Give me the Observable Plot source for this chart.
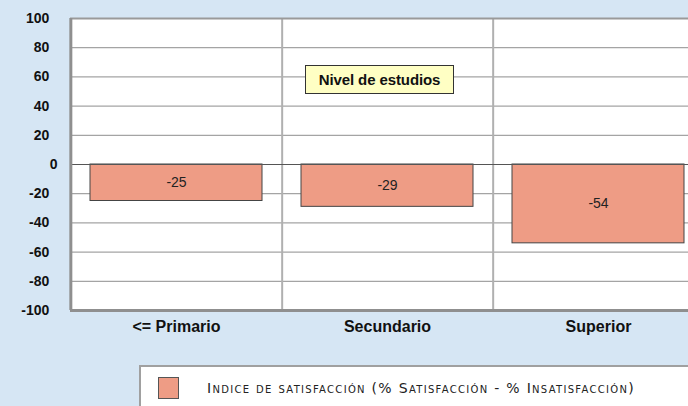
<!DOCTYPE html>
<html>
<head>
<meta charset="utf-8">
<script src="https://cdn.jsdelivr.net/npm/d3@7"></script>
<script src="https://cdn.jsdelivr.net/npm/@observablehq/plot@0.6"></script>
<style>
  html, body { margin: 0; padding: 0; background: #d6e6f4; overflow: hidden; }
  #wrap { position: relative; width: 688px; height: 406px; background: #d6e6f4; overflow: hidden; font-family: "Liberation Sans", Arial, sans-serif; }
  #chart svg { display: block; background: none; }
  #note { position: absolute; left: 305px; top: 65px; width: 147px; height: 27px; background: #ffffc4; border: 1px solid #333;
          font: bold 15px "Liberation Sans", Arial, sans-serif; letter-spacing: -0.1px; color: #111; display: flex; align-items: center; justify-content: center; }
  #legend { position: absolute; left: 139px; top: 365px; width: 580px; height: 60px; background: #fff; border: 2px solid #a0a0a0; box-sizing: border-box; }
  #legend .sw { position: absolute; left: 17px; top: 10px; width: 19px; height: 20px; background: #ee9c85; border: 1px solid #555; }
  #legend .lb { position: absolute; left: 66px; top: 13px; font: 14px "DejaVu Sans", Verdana, sans-serif; font-variant: small-caps; letter-spacing: 1.3px; color: #222; white-space: nowrap; }
</style>
</head>
<body>
<div id="wrap">
  <div id="chart"></div>
  <div id="note"></div>
  <div id="legend"><div class="sw"></div><div class="lb"></div></div>
</div>
<script>
const categories = ["<= Primario", "Secundario", "Superior"];
const values = [-25, -29, -54];
const yTicks = [-100, -80, -60, -40, -20, 0, 20, 40, 60, 80, 100];
const annotation = "Nivel de estudios";
const seriesName = "Indice de satisfacción (% Satisfacción - % Insatisfacción)";

const data = categories.map((c, i) => ({cat: c, v: values[i]}));

const W = 688, H = 340;
const mL = 70, mR = -16, mT = 18, mB = 30;
const step = (W - mL - mR) / categories.length;

const plot = Plot.plot({
  width: W, height: H,
  marginLeft: mL, marginRight: mR, marginTop: mT, marginBottom: mB,
  style: {background: "none", fontFamily: "Liberation Sans, Arial, sans-serif", overflow: "hidden"},
  x: {domain: categories, paddingInner: 0.186, paddingOuter: 0.093, label: null},
  y: {domain: [-100, 100], label: null},
  marks: [
    Plot.frame({fill: "white", stroke: null}),
    Plot.ruleY(yTicks.filter(d => d !== 0 && Math.abs(d) !== 100), {stroke: "#a4a4a4", strokeWidth: 1.3}),
    Plot.ruleX(categories.slice(0, -1), {dx: step / 2, stroke: "#b0b0b0", strokeWidth: 2}),
    Plot.ruleY([100], {stroke: "#9a9a9a", strokeWidth: 2}),
    Plot.barY(data, {x: "cat", y: "v", fill: "#ee9c85", stroke: "#444", strokeWidth: 1}),
    Plot.ruleY([0], {stroke: "#555", strokeWidth: 1}),
    Plot.text(data, {x: "cat", y: d => d.v / 2, text: d => String(d.v), fontSize: 14, fill: "#222"}),
    Plot.ruleY([-100], {stroke: "#8f8f8f", strokeWidth: 3}),
    Plot.ruleX([categories[0]], {dx: -step / 2, stroke: "#8f8f8f", strokeWidth: 3}),
    Plot.axisY(yTicks, {tickSize: 0, tickPadding: 13, fontSize: 14, fontWeight: "bold", fill: "#111",
      tickFormat: d => d === 0 ? "0" : `${d}\u2002\u200a`}),
    Plot.axisX({tickSize: 0, tickPadding: 10, fontSize: 16, fontWeight: "bold", fill: "#111"})
  ]
});
document.getElementById("chart").appendChild(plot);
document.getElementById("note").textContent = annotation;
document.querySelector("#legend .lb").textContent = seriesName;
</script>
</body>
</html>
